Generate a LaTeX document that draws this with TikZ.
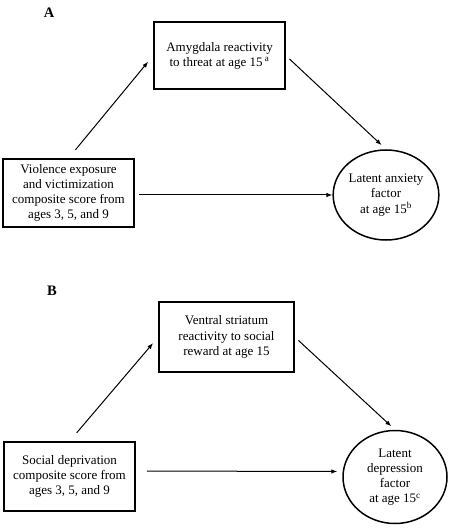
\documentclass[tikz,border=0pt]{standalone}
\usepackage{fontspec}
\setmainfont{Liberation Serif}
\usetikzlibrary{arrows.meta,shapes.geometric}
\begin{document}
\begin{tikzpicture}[x=1pt,y=-1pt,
  every node/.style={font=\fontsize{13}{15.2}\selectfont, align=center, inner sep=0pt},
  rbox/.style={draw, line width=1.5pt, rectangle},
  latent/.style={draw, line width=1.5pt, ellipse},
  conn/.style={line width=1pt, -{Latex[length=6pt,width=4.5pt]}},
  panel/.style={font=\fontsize{14.5}{16}\selectfont\bfseries}]
\useasboundingbox[fill=white] (0,0) rectangle (450,529);
% Panel A
\node[panel] (la) at (49,13) {A};
\node[rbox, minimum width=131pt, minimum height=67pt] (amy) at (219.5,55.5)
  {Amygdala reactivity\\to threat at age 15\,\textsuperscript{a}};
\node[rbox, minimum width=131pt, minimum height=68pt] (vio) at (68.5,193)
  {Violence exposure\\and victimization\\composite score from\\ages 3, 5, and 9};
\node[latent, minimum width=102pt, minimum height=90pt] (ca) at (386,195)
  {Latent anxiety\\factor\\at age 15\textsuperscript{b}};
\draw[conn, shorten <=11pt, shorten >=8pt] (vio.north) -- (amy.west);
\draw[conn, shorten <=5pt, shorten >=6pt] (amy.east) -- (ca.north);
\draw[conn, shorten <=4pt] ([yshift=-2pt]vio.east) -- (ca.west);
% Panel B
\node[panel] (lb) at (52,291) {B};
\node[rbox, minimum width=135pt, minimum height=70pt] (ven) at (226.5,337)
  {Ventral striatum\\reactivity to social\\reward at age 15};
\node[rbox, minimum width=131pt, minimum height=69pt] (soc) at (69.5,476.5)
  {Social deprivation\\composite score from\\ages 3, 5, and 9};
\node[latent, minimum width=104pt, minimum height=93pt] (cb) at (395,477)
  {Latent\\depression\\factor\\at age 15\textsuperscript{c}};
\draw[conn, shorten <=11pt, shorten >=8pt] (soc.north) -- (ven.west);
\draw[conn, shorten <=5pt, shorten >=5pt] (ven.east) -- (cb.north);
\draw[conn, shorten <=11pt, shorten >=5pt] ([yshift=5.5pt]soc.east) -- ([yshift=5.5pt]cb.west);
\end{tikzpicture}
\end{document}
